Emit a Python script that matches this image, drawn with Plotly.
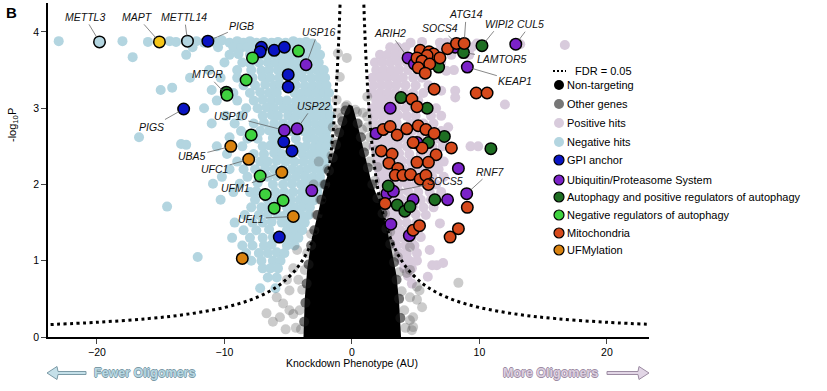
import plotly.graph_objects as go

# ---------------- data ----------------
# FDR = 0.05 threshold curve, |x| and -log10P values
fdr_abs_x = [0.9, 1.0, 1.15, 1.35, 1.6, 1.9, 2.2, 2.6, 3.0, 3.5, 4.0, 4.5, 5.5, 6.5, 8.0, 10.0, 13.0, 16.0, 20.0, 24.0]
fdr_y = [4.53, 4.05, 3.50, 2.96, 2.48, 2.08, 1.79, 1.51, 1.305, 1.116, 0.975, 0.865, 0.706, 0.597, 0.484, 0.387, 0.297, 0.241, 0.193, 0.161]

# dense core of non-hit genes (outline of the saturated black cloud)
core_x = [-3.8, -3.7, -3.5, -3.2, -2.7, -2.2, -1.7, -1.3, -0.9, -0.55, -0.25, 0.05, 0.35, 0.7, 1.1, 1.5, 2.2, 2.7, 3.1, 3.5, 3.7, 3.85]
core_y = [0.0, 0.5, 0.9, 1.25, 1.6, 1.95, 2.25, 2.5, 2.75, 2.95, 3.05, 3.03, 2.85, 2.6, 2.3, 2.05, 1.75, 1.45, 1.15, 0.8, 0.45, 0.0]

# genes on the edge of the dense cloud
core_edge_pts = [
    (-3.75, 0.2), (-3.65, 0.45), (-3.55, 0.7), (-3.4, 0.95), (-3.2, 1.2), (-2.95, 1.4), (-2.7, 1.6),
    (-2.4, 1.8), (-2.1, 2.0), (-1.8, 2.18), (-1.5, 2.35), (-1.25, 2.52), (-1.0, 2.68), (-0.75, 2.83),
    (-0.5, 2.97), (0.45, 2.8), (0.7, 2.62), (0.95, 2.42), (1.25, 2.22), (1.6, 2.0), (2.0, 1.82),
    (2.4, 1.62), (2.7, 1.42), (3.0, 1.22), (3.3, 0.98), (3.5, 0.75), (3.7, 0.5), (3.8, 0.25),
]

nontargeting_pts = [(0.0, 0.5), (0.3, 1.2), (-0.4, 1.8), (0.1, 2.5), (-0.8, 0.9), (1.0, 0.4)]

other_pts = [
    (-4.0, 0.1), (-4.1, 0.35), (-3.9, 0.62), (-3.7, 0.88), (-3.5, 1.1), (-3.2, 1.35), (-2.8, 1.6),
    (-2.5, 1.8), (-2.2, 2.0), (-1.9, 2.2), (-1.6, 2.38), (-1.35, 2.55), (-1.1, 2.72), (-0.8, 2.88),
    (-0.5, 3.02), (0.4, 2.95), (0.8, 2.72), (1.1, 2.5), (1.4, 2.3), (1.8, 2.05), (2.3, 1.85),
    (2.6, 1.62), (3.0, 1.38), (3.3, 1.1), (3.7, 0.85), (3.9, 0.6), (4.1, 0.35), (4.2, 0.12),
    (-6.7, 0.31), (-6.2, 0.2), (-5.65, 0.26), (-5.4, 0.44), (-5.9, 0.52), (-4.9, 0.61), (-5.1, 0.75),
    (-4.6, 0.9), (-4.3, 1.14), (-4.6, 0.3), (-4.4, 0.12), (-1.1, 3.72), (-0.95, 3.41), (-1.2, 3.11),
    (1.2, 2.89), (-0.4, 3.04), (0.25, 2.98), (-1.5, 2.75), (1.2, 2.75), (-1.1, 2.94), (0.85, 2.94),
    (1.4, 2.62), (2.0, 2.23), (2.75, 1.36), (3.6, 1.05), (4.3, 0.84), (5.1, 0.49), (4.55, 0.22),
    (4.7, 0.09), (4.55, 1.18), (4.55, 0.88), (5.1, 0.66), (4.55, 0.52), (5.5, 0.39), (4.8, 0.26),
    (8.35, 0.71), (-3.0, 2.0), (-2.6, 2.3), (1.9, 2.45), (-0.4, 3.66), (1.2, 3.15),
    (4.8, 0.13), (5.3, 0.61), (-5.2, 0.1), (-4.9, 0.35), (-4.2, 0.75),
]

neg_hits_pts = [
    (-23.0, 3.88), (-18.0, 3.88), (-16.0, 3.87), (-14.3, 3.88), (-13.8, 3.87), (-12.2, 3.88), (-11.6, 3.86),
    (-10.8, 3.87), (-10.2, 3.89), (-9.6, 3.86), (-9.0, 3.88), (-8.5, 3.86), (-8.0, 3.88), (-7.5, 3.86),
    (-6.9, 3.87), (-6.3, 3.86), (-5.8, 3.87), (-5.2, 3.86), (-4.6, 3.88), (-4.1, 3.86), (-3.6, 3.87), (-3.1, 3.85),
    (-12.5, 3.80), (-10.5, 3.80), (-9.3, 3.80), (-8.7, 3.79), (-8.2, 3.80), (-7.6, 3.79), (-6.6, 3.80),
    (-5.6, 3.79), (-4.9, 3.80), (-4.4, 3.79), (-3.8, 3.80), (-3.3, 3.79), (-2.8, 3.80),
    (-17.2, 3.67), (-13.0, 3.70), (-9.6, 3.70), (-8.9, 3.71), (-8.0, 3.70), (-7.4, 3.69), (-6.8, 3.70),
    (-6.2, 3.70), (-5.6, 3.69), (-5.0, 3.70), (-4.4, 3.70), (-3.7, 3.69), (-3.0, 3.70), (-2.5, 3.70),
    (-10.0, 3.60), (-8.6, 3.60), (-8.0, 3.59), (-7.3, 3.60), (-6.6, 3.60), (-6.0, 3.59), (-5.4, 3.60),
    (-4.8, 3.60), (-4.2, 3.59), (-3.2, 3.60), (-2.6, 3.60),
    (-11.2, 3.50), (-9.0, 3.50), (-7.9, 3.50), (-7.1, 3.49), (-6.5, 3.50), (-5.8, 3.50), (-5.2, 3.51),
    (-4.5, 3.50), (-3.9, 3.49), (-3.3, 3.50), (-2.7, 3.50), (-2.2, 3.50),
    (-12.7, 3.40), (-10.3, 3.40), (-9.0, 3.40), (-7.8, 3.40), (-7.0, 3.41), (-6.4, 3.40), (-5.7, 3.40),
    (-4.4, 3.40), (-3.8, 3.39), (-3.2, 3.40), (-2.6, 3.40), (-2.1, 3.40),
    (-8.5, 3.30), (-7.6, 3.30), (-6.8, 3.31), (-6.1, 3.30), (-5.6, 3.30), (-4.4, 3.30), (-3.7, 3.29),
    (-3.1, 3.30), (-2.5, 3.30), (-2.0, 3.30), (-15.0, 3.24), (-14.1, 3.27), (-11.0, 3.24),
    (-9.3, 3.20), (-8.0, 3.20), (-7.2, 3.21), (-6.5, 3.20), (-5.9, 3.20), (-4.5, 3.20), (-4.0, 3.19),
    (-3.4, 3.20), (-2.8, 3.20), (-2.2, 3.20), (-1.8, 3.20),
    (-10.6, 3.10), (-9.0, 3.10), (-7.7, 3.10), (-7.0, 3.11), (-6.3, 3.10), (-5.7, 3.10), (-5.1, 3.10),
    (-4.4, 3.09), (-3.8, 3.10), (-3.2, 3.10), (-2.6, 3.10), (-2.0, 3.10),
    (-11.6, 3.00), (-8.3, 3.00), (-7.4, 3.00), (-6.7, 3.01), (-6.1, 3.00), (-5.4, 3.00), (-4.8, 3.00),
    (-4.2, 2.99), (-3.6, 3.00), (-3.0, 3.00), (-2.4, 3.00), (-1.9, 3.00),
    (-9.9, 2.90), (-8.7, 2.90), (-7.0, 2.90), (-6.3, 2.91), (-5.8, 2.90), (-5.0, 2.90), (-4.4, 2.90),
    (-3.8, 2.89), (-3.2, 2.90), (-2.7, 2.90), (-2.1, 2.90), (-1.7, 2.90),
    (-11.0, 2.80), (-9.2, 2.80), (-7.7, 2.80), (-6.9, 2.81), (-6.1, 2.80), (-5.4, 2.80), (-4.7, 2.80),
    (-4.1, 2.79), (-3.5, 2.80), (-2.9, 2.80), (-2.3, 2.80), (-1.8, 2.80),
    (-8.7, 2.70), (-7.2, 2.70), (-6.5, 2.71), (-5.9, 2.70), (-4.8, 2.70), (-3.8, 2.70), (-3.2, 2.69),
    (-2.6, 2.70), (-2.0, 2.70), (-16.7, 2.62), (-9.6, 2.62),
    (-8.2, 2.60), (-7.4, 2.60), (-6.2, 2.61), (-5.6, 2.60), (-4.4, 2.60), (-3.5, 2.60), (-2.9, 2.59),
    (-2.3, 2.60), (-1.9, 2.60), (-13.4, 2.53), (-13.0, 2.52),
    (-10.6, 2.50), (-8.6, 2.50), (-7.0, 2.50), (-6.4, 2.51), (-5.9, 2.50), (-4.2, 2.50), (-3.6, 2.50),
    (-3.0, 2.49), (-2.5, 2.50), (-2.0, 2.50),
    (-9.8, 2.40), (-7.7, 2.40), (-6.9, 2.40), (-6.1, 2.41), (-5.5, 2.40), (-4.8, 2.40), (-3.9, 2.40),
    (-3.3, 2.39), (-2.7, 2.40), (-2.1, 2.40),
    (-9.0, 2.30), (-7.2, 2.30), (-6.6, 2.30), (-5.9, 2.31), (-5.2, 2.30), (-4.5, 2.30), (-3.8, 2.30),
    (-3.1, 2.29), (-2.5, 2.30), (-2.1, 2.30),
    (-9.6, 2.20), (-8.5, 2.20), (-7.6, 2.20), (-6.8, 2.21), (-6.1, 2.20), (-5.4, 2.20), (-4.7, 2.20),
    (-4.1, 2.19), (-3.5, 2.20), (-2.9, 2.20), (-2.3, 2.20),
    (-10.2, 2.10), (-8.2, 2.10), (-6.6, 2.10), (-5.9, 2.11), (-5.1, 2.10), (-4.4, 2.10), (-3.7, 2.10),
    (-3.1, 2.09), (-2.5, 2.10), (-10.9, 2.01), (-8.8, 2.01), (-7.4, 2.02),
    (-6.2, 2.00), (-5.4, 2.00), (-4.7, 2.01), (-4.0, 2.00), (-3.4, 2.00), (-2.8, 2.00), (-2.3, 2.00),
    (-9.3, 1.90), (-8.0, 1.90), (-7.5, 1.91), (-6.0, 1.90), (-5.3, 1.90), (-4.6, 1.90), (-3.9, 1.90),
    (-3.5, 1.89), (-2.7, 1.90),
    (-10.3, 1.80), (-7.6, 1.80), (-6.6, 1.80), (-5.9, 1.81), (-4.8, 1.80), (-4.1, 1.80), (-3.6, 1.80),
    (-3.0, 1.79), (-14.5, 1.71),
    (-7.9, 1.70), (-7.1, 1.70), (-6.5, 1.71), (-5.1, 1.70), (-4.5, 1.70), (-3.9, 1.70), (-3.3, 1.70),
    (-8.4, 1.60), (-7.3, 1.60), (-6.6, 1.61), (-5.8, 1.60), (-5.2, 1.60), (-4.0, 1.60), (-3.4, 1.60),
    (-9.2, 1.50), (-7.8, 1.50), (-7.0, 1.50), (-6.3, 1.51), (-5.5, 1.50), (-4.9, 1.50), (-4.3, 1.50),
    (-3.7, 1.50),
    (-8.5, 1.40), (-7.5, 1.40), (-6.5, 1.41), (-5.1, 1.40), (-4.5, 1.40), (-3.9, 1.40),
    (-9.4, 1.30), (-8.0, 1.30), (-7.0, 1.30), (-6.2, 1.31), (-5.4, 1.30), (-4.8, 1.30), (-4.2, 1.30),
    (-8.6, 1.20), (-7.8, 1.20), (-6.9, 1.20), (-6.3, 1.21), (-5.1, 1.20), (-4.5, 1.20),
    (-8.3, 1.10), (-7.3, 1.10), (-6.6, 1.10), (-5.9, 1.11), (-5.3, 1.10), (-12.1, 1.05),
    (-7.9, 1.00), (-7.1, 1.00), (-6.2, 1.00), (-5.6, 1.00),
    (-7.0, 0.90), (-6.4, 0.90), (-5.8, 0.90), (-6.6, 0.78), (-5.9, 0.78), (-7.2, 0.64), (-6.0, 0.64),
]

pos_hits_pts = [
    (16.7, 3.83), (13.2, 3.84), (9.8, 3.85), (4.6, 3.86), (5.5, 3.87), (6.9, 3.86), (7.4, 3.86), (7.9, 3.85),
    (3.0, 3.80), (3.6, 3.80), (4.2, 3.80), (7.0, 3.80), (9.4, 3.80),
    (2.2, 3.70), (2.8, 3.70), (3.4, 3.70), (4.0, 3.71), (7.8, 3.70), (9.2, 3.70),
    (1.8, 3.60), (2.4, 3.60), (3.0, 3.60), (3.6, 3.61), (4.3, 3.60), (7.0, 3.60),
    (1.9, 3.50), (2.5, 3.50), (3.1, 3.50), (3.7, 3.51), (4.4, 3.50), (7.4, 3.49), (8.0, 3.50),
    (1.6, 3.40), (2.2, 3.40), (2.8, 3.40), (3.4, 3.41), (4.0, 3.40), (4.8, 3.40), (5.5, 3.40),
    (1.7, 3.30), (2.3, 3.30), (2.9, 3.30), (3.5, 3.31), (4.2, 3.30), (5.0, 3.30), (6.0, 3.30),
    (8.1, 3.23), (7.0, 3.23), (8.1, 3.14),
    (1.6, 3.20), (2.2, 3.20), (2.8, 3.20), (3.4, 3.21), (4.1, 3.20), (4.8, 3.20), (5.6, 3.20),
    (1.9, 3.10), (2.5, 3.10), (3.1, 3.10), (3.8, 3.11), (4.4, 3.10), (5.2, 3.10), (12.0, 3.05),
    (1.6, 3.00), (2.2, 3.00), (2.8, 3.00), (3.5, 3.01), (4.2, 3.00), (4.9, 3.00), (5.6, 3.00), (6.6, 3.00),
    (1.8, 2.90), (2.4, 2.90), (3.0, 2.90), (3.6, 2.91), (4.3, 2.90), (5.0, 2.90), (6.2, 2.90), (7.0, 2.90),
    (1.7, 2.80), (2.3, 2.80), (2.9, 2.80), (3.5, 2.81), (4.6, 2.80), (5.6, 2.80), (6.4, 2.80), (7.55, 2.75),
    (1.8, 2.70), (2.4, 2.70), (3.0, 2.70), (3.8, 2.71), (4.7, 2.70), (5.4, 2.70), (6.2, 2.70), (7.0, 2.70),
    (1.9, 2.60), (2.5, 2.60), (3.1, 2.60), (3.9, 2.61), (4.5, 2.60), (5.3, 2.60), (6.1, 2.60), (6.8, 2.60),
    (1.7, 2.50), (2.3, 2.50), (2.9, 2.50), (3.6, 2.51), (4.3, 2.50), (5.2, 2.50), (6.3, 2.50), (7.1, 2.50),
    (9.3, 2.50), (9.9, 2.50),
    (1.9, 2.40), (2.5, 2.40), (3.1, 2.40), (3.7, 2.41), (4.5, 2.40), (5.4, 2.40), (6.2, 2.40),
    (2.0, 2.30), (2.6, 2.30), (3.2, 2.30), (3.9, 2.31), (4.6, 2.30), (5.3, 2.30), (6.6, 2.30), (7.2, 2.30),
    (2.1, 2.20), (2.7, 2.20), (3.3, 2.20), (4.0, 2.21), (4.7, 2.20), (5.4, 2.20), (6.2, 2.20), (6.8, 2.20),
    (2.3, 2.10), (2.9, 2.10), (3.5, 2.10), (4.2, 2.11), (4.9, 2.10), (5.6, 2.10), (6.3, 2.10), (7.2, 2.10),
    (2.4, 2.00), (3.0, 2.00), (3.6, 2.00), (4.3, 2.01), (5.0, 2.00), (5.8, 2.00), (6.6, 2.00),
    (2.5, 1.90), (3.1, 1.90), (3.7, 1.90), (4.4, 1.91), (5.2, 1.90), (6.1, 1.90), (7.0, 1.90),
    (2.6, 1.80), (3.2, 1.80), (3.9, 1.80), (4.6, 1.81), (5.4, 1.80), (6.2, 1.80),
    (2.7, 1.70), (3.3, 1.70), (4.0, 1.70), (4.8, 1.71), (5.6, 1.70), (6.4, 1.70),
    (2.9, 1.60), (3.5, 1.60), (4.2, 1.60), (5.0, 1.61), (5.8, 1.60),
    (3.0, 1.50), (3.6, 1.50), (4.3, 1.50), (5.1, 1.51), (6.9, 1.49),
    (3.2, 1.40), (3.8, 1.40), (4.5, 1.40), (5.2, 1.41),
    (3.4, 1.30), (4.0, 1.30), (4.7, 1.30), (5.4, 1.31),
    (3.5, 1.20), (4.2, 1.20), (4.9, 1.20), (6.1, 1.14),
    (3.7, 1.10), (4.3, 1.10), (5.1, 1.10),
    (3.9, 1.00), (4.5, 1.00), (5.1, 1.00), (6.65, 0.94), (7.15, 0.97), (6.3, 0.94),
    (4.1, 0.90), (4.7, 0.90), (4.4, 0.80), (5.95, 0.79), (4.7, 0.70),
]

gpi_pts = [(-11.3, 3.88), (-7.1, 3.80), (-7.2, 3.74), (-6.1, 3.76), (-5.3, 3.80), (-5.0, 3.44), (-5.0, 3.28),
           (-13.2, 2.99), (-5.35, 2.56), (-4.7, 2.44), (-5.7, 1.31)]

ups_pts = [(-3.6, 3.57), (-5.3, 2.71), (-4.3, 2.73), (-3.15, 1.92),
           (4.4, 3.66), (4.9, 3.58), (8.1, 3.80), (9.05, 3.54), (12.85, 3.84), (3.0, 3.0), (1.9, 2.67),
           (5.1, 2.55), (8.35, 2.21), (2.75, 1.88), (3.25, 1.91), (7.5, 1.80), (9.0, 1.88), (4.8, 1.80),
           (3.05, 1.48), (4.5, 1.33)]

autophagy_pts = [(-9.85, 3.21), (10.2, 3.82), (8.75, 3.73), (6.8, 3.54), (5.45, 3.62), (3.85, 3.14), (5.9, 3.0),
                 (7.25, 2.63), (6.0, 2.55), (10.9, 2.47), (2.85, 1.98), (3.55, 1.73), (4.15, 1.65),
                 (4.55, 1.71), (6.5, 1.80)]

neg_reg_pts = [(-4.2, 3.75), (-7.8, 3.66), (-8.3, 3.37), (-9.8, 3.17), (-7.9, 2.65), (-7.2, 2.11),
               (-6.8, 1.87), (-5.4, 1.79), (-6.1, 1.69)]

mito_pts = [(5.35, 3.76), (6.05, 3.74), (6.4, 3.71), (5.9, 3.69), (5.1, 3.66), (5.5, 3.62), (6.1, 3.58),
            (5.2, 3.53), (5.75, 3.46), (6.9, 3.66), (7.5, 3.78), (8.2, 3.85), (8.8, 3.85), (6.45, 3.25),
            (9.75, 3.20), (10.6, 3.20), (4.7, 3.12), (5.1, 3.02), (2.45, 2.72), (3.0, 2.76), (3.55, 2.65),
            (4.3, 2.73), (5.2, 2.77), (5.8, 2.72), (6.45, 2.67), (5.5, 2.48), (4.8, 2.55), (7.8, 2.48),
            (6.6, 2.39), (6.0, 2.29), (5.1, 2.29), (2.3, 2.44), (3.15, 2.40), (2.9, 2.28), (3.6, 2.21),
            (3.4, 2.12), (4.0, 2.12), (4.6, 2.13), (5.35, 2.07), (5.8, 2.12), (6.0, 2.00), (2.6, 1.75),
            (9.05, 1.70), (4.8, 1.40), (5.3, 1.46), (8.35, 1.42), (7.7, 1.31)]

ufm_pts = [(-9.5, 2.50), (-8.1, 2.33), (-5.5, 2.16), (-4.6, 1.58), (-8.6, 1.03)]

mapt_pt = [(-15.1, 3.87)]
mettl_pts = [(-19.8, 3.87), (-12.9, 3.88)]

# gene labels: name, x, y, label offset (px)
gene_labels = [
    ("METTL3", -19.8, 3.87, -15, -25), ("MAPT", -15.1, 3.87, -22, -25), ("METTL14", -12.9, 3.88, -3, -24),
    ("PIGB", -11.3, 3.88, 34, -15), ("USP16", -3.6, 3.57, 12, -33), ("MTOR", -9.8, 3.17, -20, -21),
    ("PIGS", -13.2, 2.99, -32, 18), ("USP10", -5.3, 2.71, -54, -14), ("USP22", -4.3, 2.73, 16, -23),
    ("UBA5", -9.5, 2.50, -39, 10), ("UFC1", -8.1, 2.33, -34, 10), ("UFM1", -5.5, 2.16, -46, 16),
    ("UFL1", -4.6, 1.58, -42, 2), ("ARIH2", 4.4, 3.66, -18, -25), ("SOCS4", 8.2, 3.85, -16, -15),
    ("ATG14", 8.8, 3.85, 2, -29), ("WIPI2", 10.2, 3.82, 18, -22), ("CUL5", 12.85, 3.84, 15, -20),
    ("LAMTOR5", 8.75, 3.73, 38, 6), ("KEAP1", 9.05, 3.54, 48, 14), ("SOCS5", 3.25, 1.91, 52, -10),
    ("RNF7", 9.0, 1.88, 24, -22),
]

legend_names = ["Non-targeting", "Other genes", "Positive hits", "Negative hits", "GPI anchor",
                "Ubiquitin/Proteasome System", "Autophagy and positive regulators of autophagy",
                "Negative regulators of autophagy", "Mitochondria", "UFMylation"]
legend_colors = ["#000000", "#777777", "#d8cbdc", "#b3d5e0", "#0a14c4", "#7b22c8", "#1e6e22",
                 "#3fd23f", "#d64a1c", "#d9820f"]
legend_outline = [False, False, False, False, True, True, True, True, True, True]

# ---------------- figure ----------------
W, H = 827, 391
L, R, T, B = 48, 178, 3, 54
PW, PH = W - L - R, H - T - B
FONT = "Liberation Sans, Arial"

def px(xp):
    return (xp - L) / PW

def py(yp):
    return (H - B - yp) / PH

def xs(pts):
    return [p[0] for p in pts]

def ys(pts):
    return [p[1] for p in pts]

fig = go.Figure()

fig.add_trace(go.Scatter(x=xs(neg_hits_pts), y=ys(neg_hits_pts), mode="markers",
                         marker=dict(size=10, color=legend_colors[3], line=dict(width=0)), hoverinfo="skip"))
fig.add_trace(go.Scatter(x=xs(pos_hits_pts), y=ys(pos_hits_pts), mode="markers",
                         marker=dict(size=10, color=legend_colors[2], line=dict(width=0)), hoverinfo="skip"))
fig.add_trace(go.Scatter(x=xs(other_pts), y=ys(other_pts), mode="markers",
                         marker=dict(size=10, color="rgba(70,70,70,0.28)", line=dict(width=0)), hoverinfo="skip"))
fig.add_trace(go.Scatter(x=core_x, y=core_y, mode="lines", fill="toself", fillcolor="black",
                         line=dict(width=0, color="black"), hoverinfo="skip"))
fig.add_trace(go.Scatter(x=xs(core_edge_pts), y=ys(core_edge_pts), mode="markers",
                         marker=dict(size=10, color="rgba(25,25,25,0.6)", line=dict(width=0)), hoverinfo="skip"))
fig.add_trace(go.Scatter(x=xs(nontargeting_pts), y=ys(nontargeting_pts), mode="markers",
                         marker=dict(size=10, color="black"), hoverinfo="skip"))

# FDR curve
for sgn in (-1, 1):
    fig.add_trace(go.Scatter(x=[sgn * v for v in fdr_abs_x], y=fdr_y, mode="lines",
                             line=dict(color="black", width=3, dash="3px,3.5px", shape="spline"), hoverinfo="skip"))

def colored(pts, color):
    fig.add_trace(go.Scatter(x=xs(pts), y=ys(pts), mode="markers",
                             marker=dict(size=11.5, color=color, line=dict(width=1.5, color="black")),
                             hoverinfo="skip"))

colored(mettl_pts, legend_colors[3])
colored(mapt_pt, "#f5c518")
colored(gpi_pts, legend_colors[4])
colored(ups_pts, legend_colors[5])
colored(autophagy_pts, legend_colors[6])
colored(neg_reg_pts, legend_colors[7])
colored(mito_pts, legend_colors[8])
colored(ufm_pts, legend_colors[9])

annotations = []
for name, gx, gy, ax, ay in gene_labels:
    annotations.append(dict(x=gx, y=gy, xref="x", yref="y", text=name, showarrow=True, ax=ax, ay=ay,
                            arrowhead=0, arrowwidth=0.7, arrowcolor="#555", standoff=5,
                            font=dict(family=FONT, size=10.5, color="#111", style="italic")))

def ptext(xp, yp, text, size, xanchor="center", **kw):
    d = dict(x=px(xp), y=py(yp), xref="paper", yref="paper", text=text, showarrow=False,
             xanchor=xanchor, yanchor="middle", font=dict(family=FONT, size=size, color=kw.pop("color", "black"), **kw.pop("fontkw", {})))
    d.update(kw)
    annotations.append(d)

# manual legend
shapes = []
shapes.append(dict(type="line", xref="paper", yref="paper", x0=px(553), x1=px(566), y0=py(71), y1=py(71),
                   line=dict(color="black", width=2, dash="2px,2px")))
ptext(573, 71, "FDR = 0.05", 11, xanchor="left")
leg_y = [85, 104, 123, 142, 160, 180, 197, 215, 233, 250]
for name, col, outl, ly in zip(legend_names, legend_colors, legend_outline, leg_y):
    shapes.append(dict(type="circle", xref="paper", yref="paper", xsizemode="pixel", ysizemode="pixel",
                       xanchor=px(559), yanchor=py(ly), x0=-5, x1=5, y0=-5, y1=5, fillcolor=col,
                       line=dict(color="black" if outl else col, width=1.2 if outl else 0)))
    ptext(565, ly, name, 11, xanchor="left")

# panel letter, axis titles
ptext(11, 12, "<b>B</b>", 15)
ptext(13, 125, "-log<sub>10</sub>P", 11, textangle=-90)
ptext(352, 363, "Knockdown Phenotype (AU)", 10.5)

# direction labels and arrows
blue_out = "#7b9aa6"
lav_out = "#9c8ba2"
ptext(144, 373, "<b>Fewer Oligomers</b>", 12.5, color="#b8d8e3",
      fontkw=dict(shadow=f"-0.7px 0 {blue_out}, 0.7px 0 {blue_out}, 0 -0.7px {blue_out}, 0 0.7px {blue_out}"))
ptext(550, 373, "<b>More Oligomers</b>", 12.5, color="#dccfe0",
      fontkw=dict(shadow=f"-0.7px 0 {lav_out}, 0.7px 0 {lav_out}, 0 -0.7px {lav_out}, 0 0.7px {lav_out}"))

def arrow_path(tip, tail, direction):
    # direction: -1 points left, +1 points right
    hx = tip - direction * 11
    pts = [(tip, 373), (hx + direction, 366.5), (hx, 371.5), (tail, 371.5), (tail, 374.5), (hx, 374.5),
           (hx + direction, 379.5)]
    return "M " + " L ".join(f"{px(a):.5f},{py(b):.5f}" for a, b in pts) + " Z"

shapes.append(dict(type="path", xref="paper", yref="paper", path=arrow_path(47, 86, -1),
                   fillcolor="#c5e0e9", line=dict(color=blue_out, width=1)))
shapes.append(dict(type="path", xref="paper", yref="paper", path=arrow_path(649, 607, 1),
                   fillcolor="#e2d6e6", line=dict(color=lav_out, width=1)))

fig.update_layout(
    width=W, height=H, margin=dict(l=L, r=R, t=T, b=B, pad=0),
    plot_bgcolor="white", paper_bgcolor="white", showlegend=False,
    font=dict(family=FONT, size=10.5, color="black"),
    annotations=annotations, shapes=shapes,
    xaxis=dict(range=[-23.84, 23.3], tickvals=[-20, -10, 0, 10, 20], ticks="outside", ticklen=5, tickwidth=1,
               showline=True, linecolor="black", linewidth=1.5, showgrid=False, zeroline=False,
               tickfont=dict(size=10.5)),
    yaxis=dict(range=[0, 4.38], tickvals=[0, 1, 2, 3, 4], ticks="outside", ticklen=5, tickwidth=1,
               showline=True, linecolor="black", linewidth=1.5, showgrid=False, zeroline=False,
               tickfont=dict(size=10.5)),
)

fig.write_html("out.html", config={"displayModeBar": False},
               post_script="document.body.style.margin='0px';")
